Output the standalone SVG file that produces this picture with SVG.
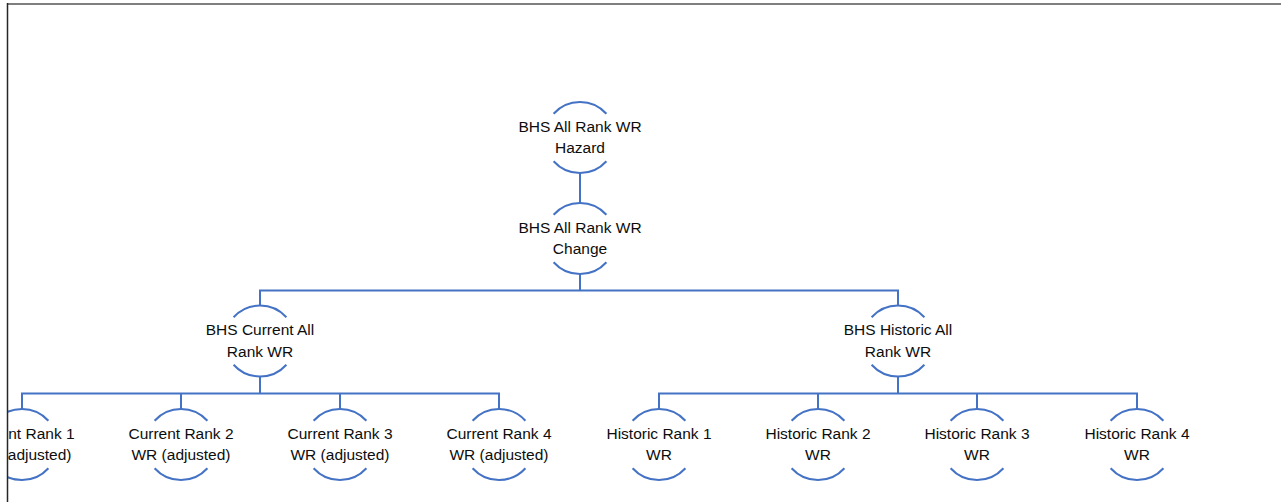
<svg xmlns="http://www.w3.org/2000/svg" xmlns:xlink="http://www.w3.org/1999/xlink" width="1281" height="502" viewBox="0 0 1281 502">
  <style>
    .ring { fill: none; stroke: #4472C4; stroke-width: 2; }
    .link { fill: none; stroke: #4472C4; stroke-width: 2; }
    .label { font-family: "Liberation Sans", Arial, sans-serif; font-size: 15.5px; fill: #0d0d0d; text-anchor: middle; }
  </style>
  <defs>
    <!-- open circle: upper and lower arcs, gaps left and right for the label -->
    <path id="ring" class="ring" d="M -26.4 -23.75 A 35.5 35.5 0 0 1 26.4 -23.75 M -26.4 23.75 A 35.5 35.5 0 0 0 26.4 23.75"/>
    <clipPath id="page">
      <rect x="8" y="0" width="1273" height="502"/>
    </clipPath>
  </defs>
  <rect width="1281" height="502" fill="#ffffff"/>

  <g clip-path="url(#page)">
    <g id="connectors">
      <path class="link" d="M580 173 V203"/>
      <path class="link" d="M580 274 V290.5 M260 305.5 V290.5 H898 V305.5"/>
      <path class="link" d="M260 376.5 V393.5 M22 409 V393.5 H499 V409 M181 393.5 V409 M340 393.5 V409"/>
      <path class="link" d="M898 376.5 V393.5 M659 409 V393.5 H1137 V409 M818 393.5 V409 M977 393.5 V409"/>
    </g>

    <g id="node-hazard">
      <use xlink:href="#ring" x="580" y="137.5"/>
      <text class="label" x="580" y="131.5">BHS All Rank WR<tspan x="580" dy="21.5">Hazard</tspan></text>
    </g>
    <g id="node-change">
      <use xlink:href="#ring" x="580" y="238.5"/>
      <text class="label" x="580" y="232.5">BHS All Rank WR<tspan x="580" dy="21.5">Change</tspan></text>
    </g>
    <g id="node-current-all">
      <use xlink:href="#ring" x="260" y="341"/>
      <text class="label" x="260" y="335">BHS Current All<tspan x="260" dy="21.5">Rank WR</tspan></text>
    </g>
    <g id="node-historic-all">
      <use xlink:href="#ring" x="898" y="341"/>
      <text class="label" x="898" y="335">BHS Historic All<tspan x="898" dy="21.5">Rank WR</tspan></text>
    </g>

    <g id="node-current-1">
      <use xlink:href="#ring" x="22" y="444.5"/>
      <text class="label" x="22" y="438.5">Current Rank 1<tspan x="22" dy="21.5">WR (adjusted)</tspan></text>
    </g>
    <g id="node-current-2">
      <use xlink:href="#ring" x="181" y="444.5"/>
      <text class="label" x="181" y="438.5">Current Rank 2<tspan x="181" dy="21.5">WR (adjusted)</tspan></text>
    </g>
    <g id="node-current-3">
      <use xlink:href="#ring" x="340" y="444.5"/>
      <text class="label" x="340" y="438.5">Current Rank 3<tspan x="340" dy="21.5">WR (adjusted)</tspan></text>
    </g>
    <g id="node-current-4">
      <use xlink:href="#ring" x="499" y="444.5"/>
      <text class="label" x="499" y="438.5">Current Rank 4<tspan x="499" dy="21.5">WR (adjusted)</tspan></text>
    </g>

    <g id="node-historic-1">
      <use xlink:href="#ring" x="659" y="444.5"/>
      <text class="label" x="659" y="438.5">Historic Rank 1<tspan x="659" dy="21.5">WR</tspan></text>
    </g>
    <g id="node-historic-2">
      <use xlink:href="#ring" x="818" y="444.5"/>
      <text class="label" x="818" y="438.5">Historic Rank 2<tspan x="818" dy="21.5">WR</tspan></text>
    </g>
    <g id="node-historic-3">
      <use xlink:href="#ring" x="977" y="444.5"/>
      <text class="label" x="977" y="438.5">Historic Rank 3<tspan x="977" dy="21.5">WR</tspan></text>
    </g>
    <g id="node-historic-4">
      <use xlink:href="#ring" x="1137" y="444.5"/>
      <text class="label" x="1137" y="438.5">Historic Rank 4<tspan x="1137" dy="21.5">WR</tspan></text>
    </g>
  </g>

  <!-- page frame edges -->
  <path d="M7 4 H1281" stroke="#7f7f7f" stroke-width="2" fill="none"/>
  <path d="M7.5 3 V502" stroke="#262626" stroke-width="1.5" fill="none"/>
</svg>
